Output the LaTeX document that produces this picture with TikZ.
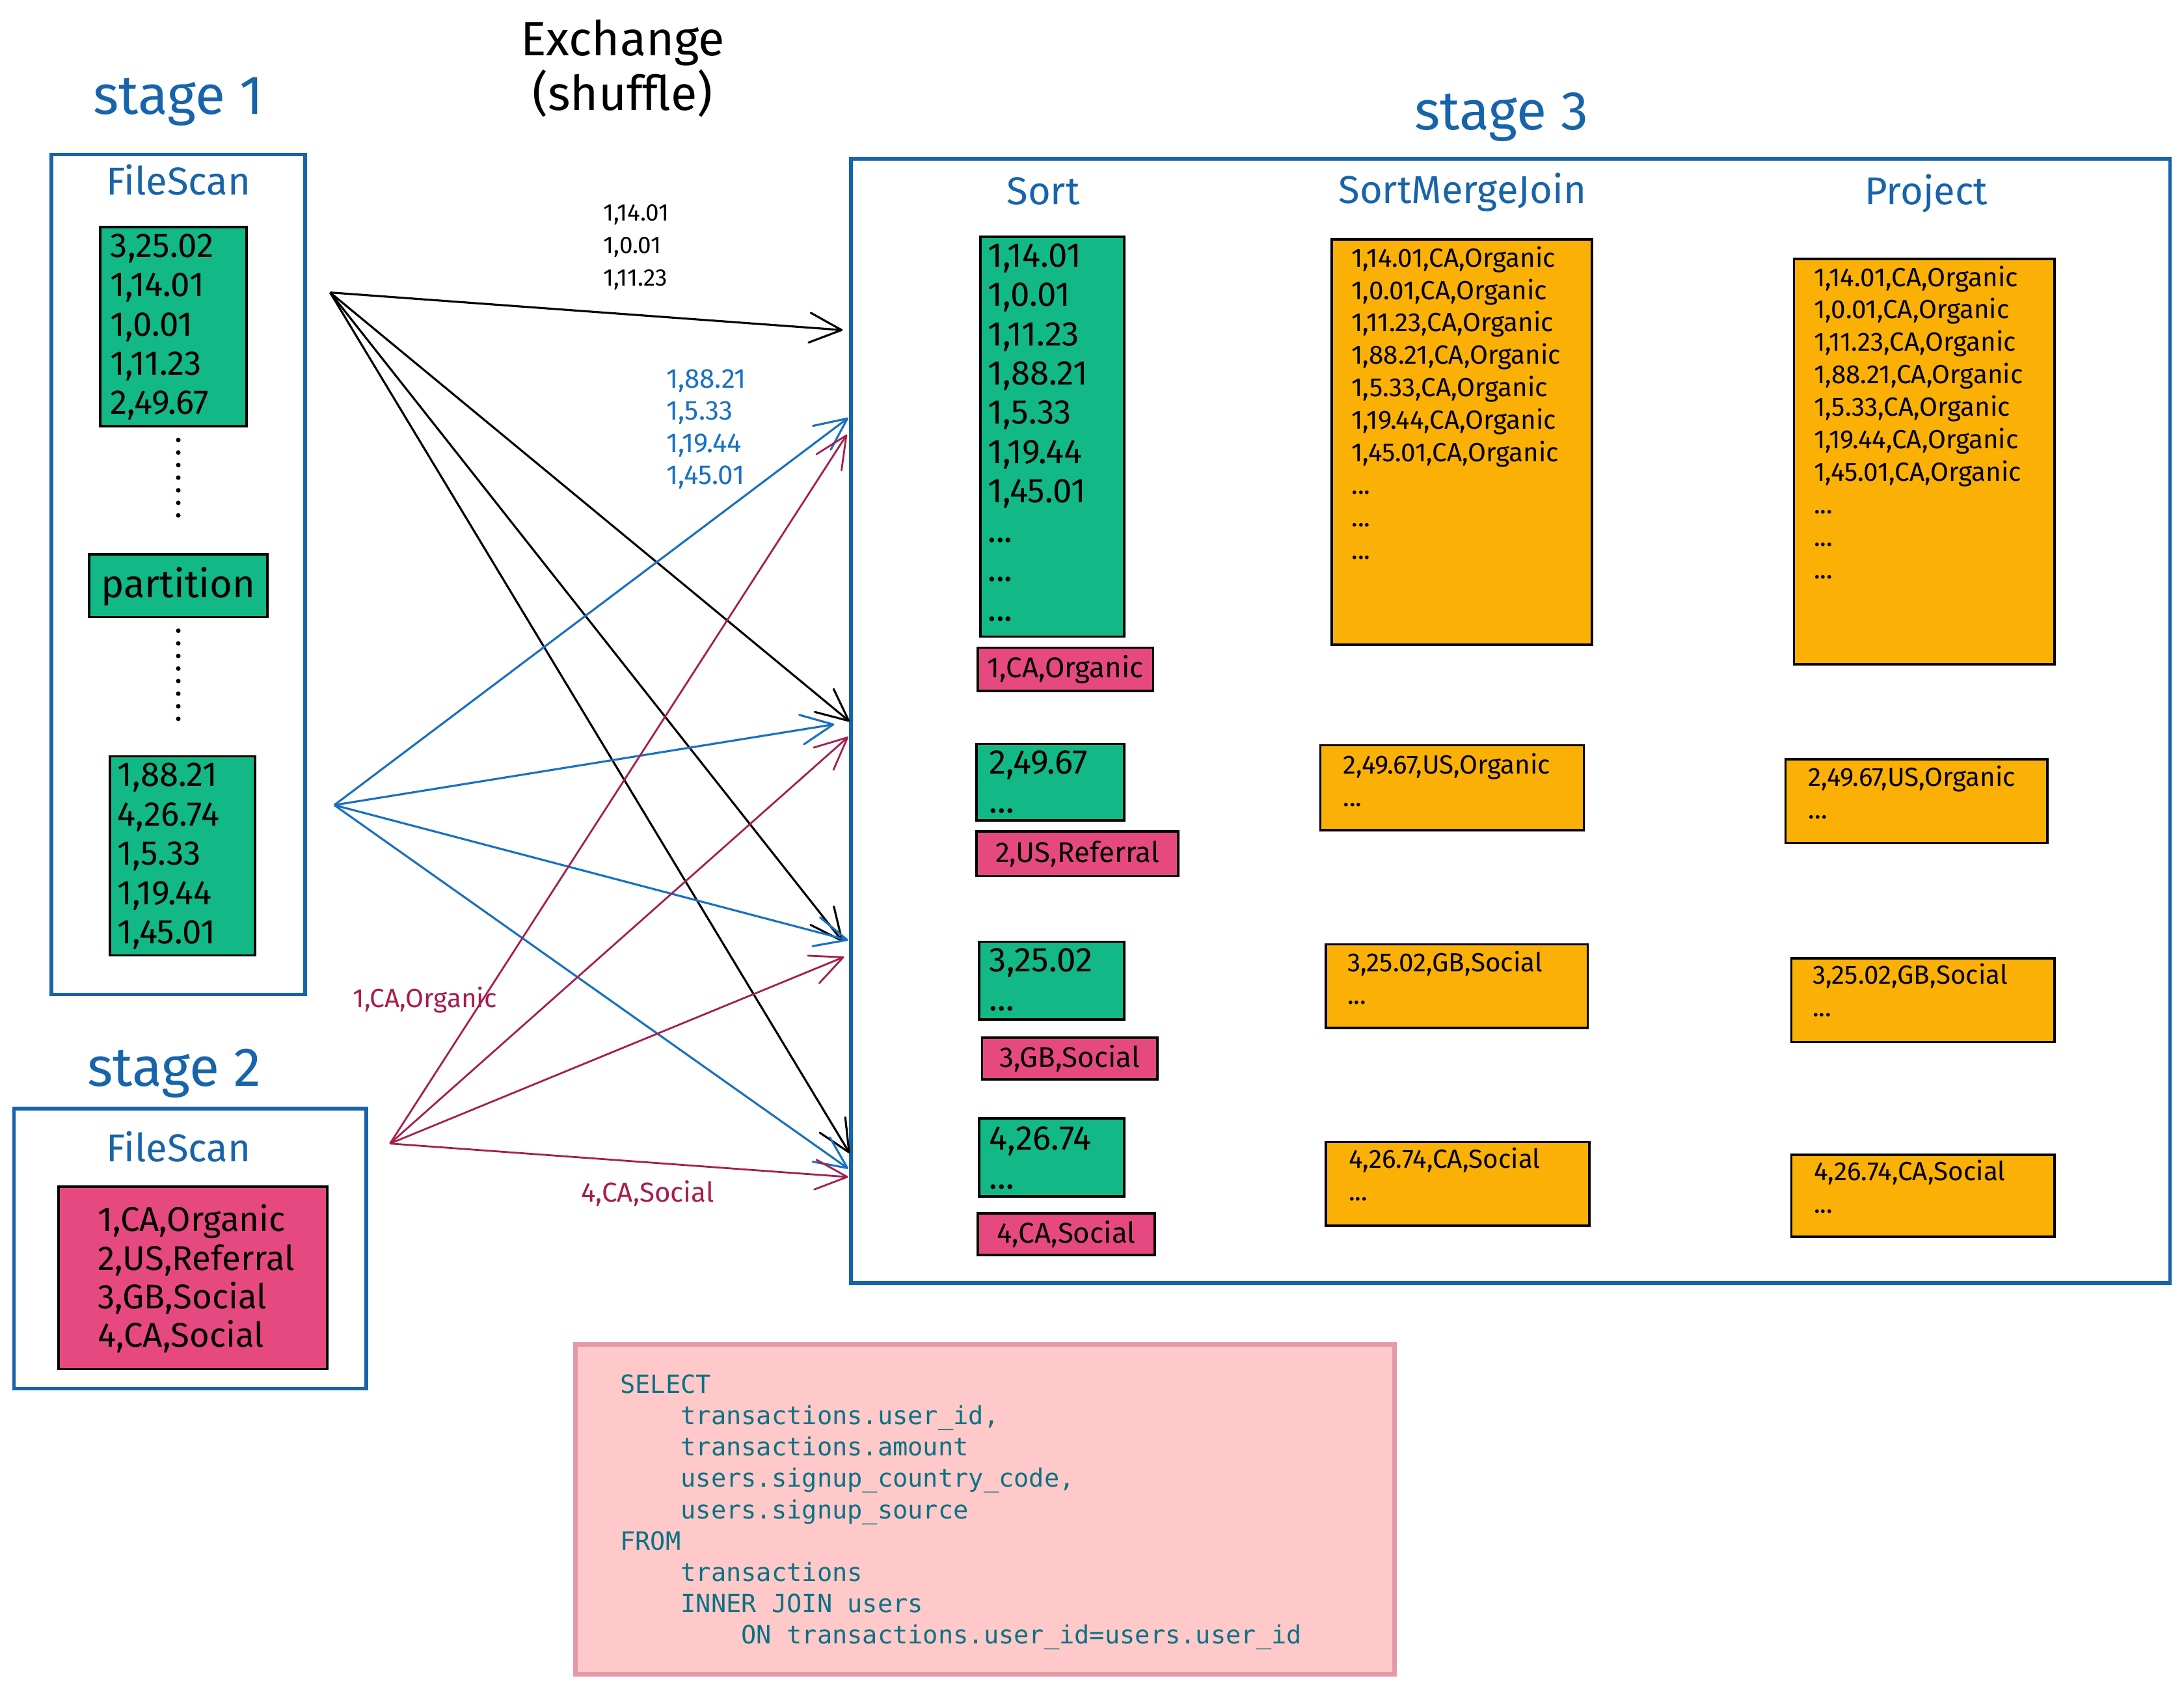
\documentclass[tikz,border=0pt]{standalone}
\usepackage{fontspec}
\setmainfont{Fira Sans}
\newfontfamily\sqlfont{DejaVu Sans Mono}
\usetikzlibrary{arrows.meta,fit}

\definecolor{frameblue}{HTML}{1864AB}
\definecolor{flowblue}{HTML}{1971C2}
\definecolor{cellgreen}{HTML}{12B886}
\definecolor{cellpink}{HTML}{E64980}
\definecolor{cellorange}{HTML}{FAB005}
\definecolor{crimson}{HTML}{A61E4D}
\definecolor{sqlfill}{HTML}{FFC9C9}
\definecolor{sqledge}{HTML}{E599A7}
\definecolor{sqlteal}{HTML}{0B7285}

\tikzset{
  frame/.style={draw=frameblue, line width=1.6pt, inner sep=0pt},
  cell/.style={draw=black, line width=1pt, inner sep=0pt},
  gcell/.style={cell, fill=cellgreen},
  pcell/.style={cell, fill=cellpink},
  ocell/.style={cell, fill=cellorange},
  sqlbox/.style={draw=sqledge, fill=sqlfill, line width=2pt, inner sep=0pt},
  stagetitle/.style={text=frameblue, font=\fontsize{24}{28}\selectfont, anchor=base, inner sep=0pt},
  optitle/.style={text=frameblue, font=\fontsize{17}{20}\selectfont, anchor=base, inner sep=0pt},
  rows/.style={anchor=north west, inner sep=0pt, align=left},
  bigrows/.style={rows, font=\fontsize{15}{17.2}\selectfont},
  joinrows/.style={rows, font=\fontsize{11.5}{14.2}\selectfont},
  keyrow/.style={inner sep=0pt, font=\fontsize{12.5}{15}\selectfont},
  flow/.style={-{Straight Barb[length=14pt,width=13pt,round]}, line width=0.9pt},
  dotline/.style={line width=2pt, line cap=round, dash pattern=on 0pt off 5.5pt},
}

\begin{document}
\begin{tikzpicture}[x=0.02141cm, y=-0.02141cm]
\path[use as bounding box, fill=white] (0,0) rectangle (1568,1211);

% ---------- frames of the three stages ----------
\node[frame, fit={(37,111) (219,714)}] (stage1) {};
\node[frame, fit={(10,796) (263,997)}] (stage2) {};
\node[frame, fit={(611,114) (1558,921)}] (stage3) {};

\node[stagetitle] (st1) at (128,82) {stage 1};
\node[stagetitle] (st2) at (125,780) {stage 2};
\node[stagetitle] (st3) at (1078,93) {stage 3};

\node[anchor=base, inner sep=0pt, font=\fontsize{21}{24}\selectfont] (ex1) at (447,40) {Exchange};
\node[anchor=base, inner sep=0pt, font=\fontsize{21}{24}\selectfont] (ex2) at (447,79) {(shuffle)};

\node[optitle] (fs1) at (128,140) {FileScan};
\node[optitle] (fs2) at (128,834) {FileScan};
\node[optitle] (opSort) at (749,147) {Sort};
\node[optitle] (opSMJ) at (1050,146) {SortMergeJoin};
\node[optitle] (opProj) at (1383,147) {Project};

% ---------- exchange: connectors between stages ----------
\coordinate (srcK) at (237,210);
\coordinate (srcB) at (240,578);
\coordinate (srcR) at (280,821);

\coordinate (tK1) at (605,237);
\coordinate (tK2) at (610,518);
\coordinate (tK3) at (605,676);
\coordinate (tK4) at (610,828);
\coordinate (tB1) at (609,300);
\coordinate (tB2) at (599,520);
\coordinate (tB3) at (609,675);
\coordinate (tB4) at (609,839);
\coordinate (tR1) at (608,312);
\coordinate (tR2) at (609,529);
\coordinate (tR3) at (606,687);
\coordinate (tR4) at (609,845);

\foreach \t in {tK1,tK2,tK3,tK4} \draw[flow, draw=black] (srcK) -- (\t);
\foreach \t in {tB1,tB2,tB3,tB4} \draw[flow, draw=flowblue] (srcB) -- (\t);
\foreach \t in {tR1,tR2,tR3,tR4} \draw[flow, draw=crimson, line width=0.8pt] (srcR) -- (\t);

\node[rows, font=\fontsize{10.5}{14.3}\selectfont] (lblK) at (433,146.5) {1,14.01\\1,0.01\\1,11.23};
\node[rows, text=flowblue, font=\fontsize{12}{14}\selectfont] (lblB) at (478,265) {1,88.21\\1,5.33\\1,19.44\\1,45.01};
\node[inner sep=0pt, text=crimson, font=\fontsize{11.5}{14}\selectfont] (lblR1) at (305,718) {1,CA,Organic};
\node[inner sep=0pt, text=crimson, font=\fontsize{12}{14}\selectfont] (lblR2) at (465,857) {4,CA,Social};

% ---------- stage 1: FileScan partitions ----------
\node[gcell, fit={(72,163) (177,306)}] (s1a) {};
\node[bigrows] (s1a-t) at (79,167.5) {3,25.02\\1,14.01\\1,0.01\\1,11.23\\2,49.67};
\node[gcell, fit={(64,398) (192,443)}] (part) {};
\node[anchor=base, inner sep=0pt, font=\fontsize{17}{20}\selectfont] (part-t) at (128,429) {partition};
\node[gcell, fit={(79,543) (183,686)}] (s1b) {};
\node[bigrows] (s1b-t) at (84,547.5) {1,88.21\\4,26.74\\1,5.33\\1,19.44\\1,45.01};

\draw[dotline, shorten <=5.5pt, shorten >=12pt] (part.north |- s1a.south) -- (part.north);
\draw[dotline, shorten <=5.5pt, shorten >=15pt] (part.south) -- (part.south |- s1b.north);

% ---------- stage 2: FileScan of users ----------
\node[pcell, fit={(42,852) (235,983)}] (s2) {};
\node[bigrows, font=\fontsize{15}{16.9}\selectfont] (s2-t) at (70,864.5) {1,CA,Organic\\2,US,Referral\\3,GB,Social\\4,CA,Social};

% ---------- stage 3: Sort ----------
\node[gcell, fit={(704,170) (807,457)}] (sort1) {};
\node[bigrows] (sort1-t) at (709,174.5) {1,14.01\\1,0.01\\1,11.23\\1,88.21\\1,5.33\\1,19.44\\1,45.01\\...\\...\\...};
\node[pcell, fit={(702,465) (828,496)}] (key1) {};
\node[keyrow] at (key1.center) {1,CA,Organic};

\node[gcell, fit={(701,534) (807,589)}] (sort2) {};
\node[bigrows] (sort2-t) at (710,538.5) {2,49.67\\...};
\node[pcell, fit={(701,597) (846,629)}] (key2) {};
\node[keyrow] at (key2.center) {2,US,Referral};

\node[gcell, fit={(703,676) (807,732)}] (sort3) {};
\node[bigrows] (sort3-t) at (710,680.5) {3,25.02\\...};
\node[pcell, fit={(705,745) (831,775)}] (key3) {};
\node[keyrow] at (key3.center) {3,GB,Social};

\node[gcell, fit={(703,803) (807,859)}] (sort4) {};
\node[bigrows] (sort4-t) at (710,808.5) {4,26.74\\...};
\node[pcell, fit={(702,871) (829,901)}] (key4) {};
\node[keyrow] at (key4.center) {4,CA,Social};

% ---------- stage 3: SortMergeJoin ----------
\node[ocell, fit={(956,172) (1143,463)}] (smj1) {};
\node[joinrows] (smj1-t) at (970,176.5) {1,14.01,CA,Organic\\1,0.01,CA,Organic\\1,11.23,CA,Organic\\1,88.21,CA,Organic\\1,5.33,CA,Organic\\1,19.44,CA,Organic\\1,45.01,CA,Organic\\...\\...\\...};
\node[ocell, fit={(948,535) (1137,596)}] (smj2) {};
\node[joinrows] (smj2-t) at (964,540.5) {2,49.67,US,Organic\\...};
\node[ocell, fit={(952,678) (1140,738)}] (smj3) {};
\node[joinrows] (smj3-t) at (967,682.5) {3,25.02,GB,Social\\...};
\node[ocell, fit={(952,820) (1141,880)}] (smj4) {};
\node[joinrows] (smj4-t) at (968,823.5) {4,26.74,CA,Social\\...};

% ---------- stage 3: Project ----------
\node[ocell, fit={(1288,186) (1475,477)}] (proj1) {};
\node[joinrows] (proj1-t) at (1302,190.5) {1,14.01,CA,Organic\\1,0.01,CA,Organic\\1,11.23,CA,Organic\\1,88.21,CA,Organic\\1,5.33,CA,Organic\\1,19.44,CA,Organic\\1,45.01,CA,Organic\\...\\...\\...};
\node[ocell, fit={(1282,545) (1470,605)}] (proj2) {};
\node[joinrows] (proj2-t) at (1298,549.5) {2,49.67,US,Organic\\...};
\node[ocell, fit={(1286,688) (1475,748)}] (proj3) {};
\node[joinrows] (proj3-t) at (1301,691.5) {3,25.02,GB,Social\\...};
\node[ocell, fit={(1286,829) (1475,888)}] (proj4) {};
\node[joinrows] (proj4-t) at (1302,832.5) {4,26.74,CA,Social\\...};

% ---------- the query ----------
\node[sqlbox, fit={(413,965) (1001,1202)}] (sql) {};
\node[rows, text=sqlteal, font={\sqlfont\fontsize{11}{13.7}\selectfont}] (sql-t) at (445,986.5)
  {SELECT\\
   \phantom{0000}transactions.user\_id,\\
   \phantom{0000}transactions.amount\\
   \phantom{0000}users.signup\_country\_code,\\
   \phantom{0000}users.signup\_source\\
   FROM\\
   \phantom{0000}transactions\\
   \phantom{0000}INNER JOIN users\\
   \phantom{00000000}ON transactions.user\_id=users.user\_id};
\end{tikzpicture}
\end{document}
